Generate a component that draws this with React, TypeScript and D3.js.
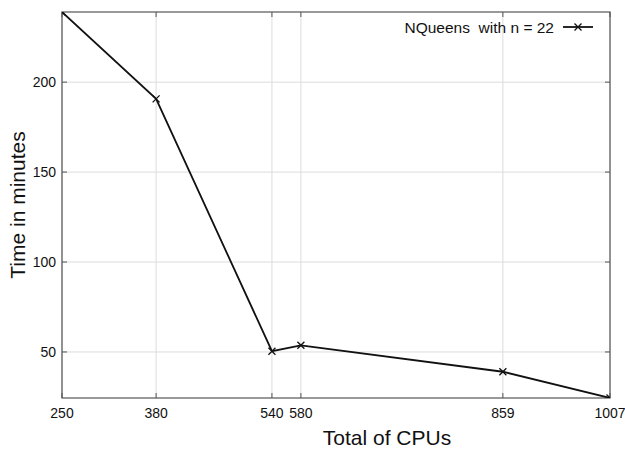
import React from "react";
import * as d3 from "d3";

const cpus = [250, 380, 540, 580, 859, 1007];
const minutes = [239, 190.7, 50.4, 53.7, 39, 24.4];
const xTicks = [250, 380, 540, 580, 859, 1007];
const yTicks = [50, 100, 150, 200];
const legendLabel = "NQueens  with n = 22";

export default function App() {
  const W = 625, H = 450;
  const m = { left: 62, top: 12, right: 15, bottom: 52 };
  const x = d3.scaleLinear().domain([250, 1007]).range([m.left, W - m.right]);
  const y = d3.scaleLinear().domain([24.4, 239]).range([H - m.bottom, m.top]);
  const pts = cpus.map((c, i) => [x(c), y(minutes[i])] as [number, number]);
  const line = d3.line()(pts) || "";
  const font = "Liberation Sans, Arial, Helvetica, sans-serif";
  const x0 = x.range()[0], x1 = x.range()[1], y0 = y.range()[0], y1 = y.range()[1];
  const mk = (cx: number, cy: number, s = 3.5) =>
    `M${cx - s},${cy - s}L${cx + s},${cy + s}M${cx - s},${cy + s}L${cx + s},${cy - s}`;
  const legY = 27;
  return (
    <svg width={W} height={H} style={{ position: "absolute", left: 0, top: 0, background: "#fff" }} fontFamily={font}>
      <defs>
        <clipPath id="plot">
          <rect x={x0} y={y1} width={x1 - x0} height={y0 - y1} />
        </clipPath>
      </defs>
      <rect width={W} height={H} fill="#fff" />
      {xTicks.map(t => (
        <line key={"gx" + t} x1={x(t)} x2={x(t)} y1={y0} y2={y1} stroke="#dcdcdc" strokeWidth={1} />
      ))}
      {yTicks.map(t => (
        <line key={"gy" + t} x1={x0} x2={x1} y1={y(t)} y2={y(t)} stroke="#dcdcdc" strokeWidth={1} />
      ))}
      {xTicks.map(t => (
        <g key={"tx" + t}>
          <line x1={x(t)} x2={x(t)} y1={y0} y2={y0 - 5} stroke="#555" />
          <line x1={x(t)} x2={x(t)} y1={y1} y2={y1 + 5} stroke="#555" />
          <text x={x(t)} y={y0 + 20} textAnchor="middle" fontSize={14} fill="#111">{t}</text>
        </g>
      ))}
      {yTicks.map(t => (
        <g key={"ty" + t}>
          <line x1={x0} x2={x0 + 5} y1={y(t)} y2={y(t)} stroke="#555" />
          <line x1={x1} x2={x1 - 5} y1={y(t)} y2={y(t)} stroke="#555" />
          <text x={x0 - 6} y={y(t) + 5} textAnchor="end" fontSize={14} fill="#111">{t}</text>
        </g>
      ))}
      <rect x={x0} y={y1} width={x1 - x0} height={y0 - y1} fill="none" stroke="#555" strokeWidth={1.2} />
      <g clipPath="url(#plot)">
        <path d={line} fill="none" stroke="#111" strokeWidth={1.8} />
        {pts.map((p, i) => (
          <path key={i} d={mk(p[0], p[1])} stroke="#111" strokeWidth={1.3} fill="none" />
        ))}
      </g>
      <text x={554} y={legY + 5.5} textAnchor="end" fontSize={15.5} fill="#111" style={{ whiteSpace: "pre" }}>{legendLabel}</text>
      <line x1={563} x2={593} y1={legY} y2={legY} stroke="#111" strokeWidth={1.8} />
      <path d={mk(578, legY)} stroke="#111" strokeWidth={1.3} fill="none" />
      <text transform={`translate(25,${(y0 + y1) / 2}) rotate(-90)`} textAnchor="middle" fontSize={21} fill="#111">Time in minutes</text>
      <text x={387} y={445} textAnchor="middle" fontSize={21} fill="#111">Total of CPUs</text>
    </svg>
  );
}
